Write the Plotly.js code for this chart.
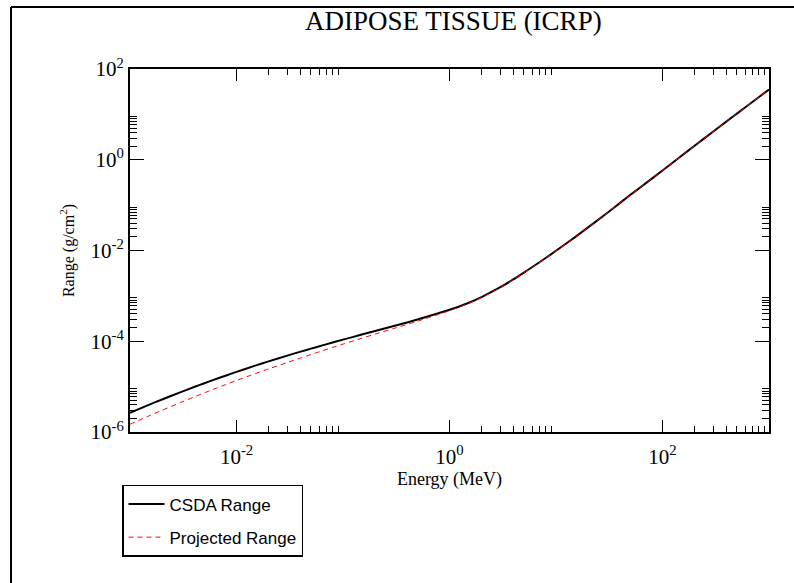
<!DOCTYPE html>
<html>
<head>
<meta charset="utf-8">
<script src="https://cdn.plot.ly/plotly-3.0.1.min.js"></script>
<style>html,body{margin:0;padding:0;background:#fff;}#chart{width:794px;height:583px;}</style>
</head>
<body>
<div id="chart"></div>
<script>
// Energy (MeV)
const energy = [0.001, 0.0015, 0.002, 0.003, 0.004, 0.005, 0.006, 0.008,
  0.01, 0.015, 0.02, 0.03, 0.04, 0.05, 0.06, 0.08,
  0.1, 0.15, 0.2, 0.3, 0.4, 0.5, 0.6, 0.8,
  1, 1.5, 2, 3, 4, 5, 6, 8,
  10, 15, 20, 30, 40, 50, 60, 80,
  100, 150, 200, 300, 400, 500, 600, 800, 1000];
// CSDA Range (g/cm2)
const csdaRange = [2.661e-6, 3.963e-6, 5.21e-6, 7.57e-6, 9.79e-6, 1.189e-5, 1.387e-5, 1.762e-5,
  2.113e-5, 2.904e-5, 3.606e-5, 4.83e-5, 5.90e-5, 6.87e-5, 7.76e-5, 9.376e-5,
  1.084e-4, 1.403e-4, 1.683e-4, 2.168e-4, 2.600e-4, 3.013e-4, 3.412e-4, 4.188e-4,
  4.932e-4, 6.98e-4, 9.42e-4, 1.552e-3, 2.328e-3, 3.258e-3, 4.325e-3, 6.84e-3,
  9.86e-3, 1.950e-2, 3.236e-2, 6.607e-2, 0.1122, 0.1687, 0.2328, 0.389,
  0.579, 1.213, 2.037, 4.198, 7.015, 10.40, 14.35, 23.82, 35.24];
// Projected Range (g/cm2)
const projectedRange = [1.479e-6, 2.254e-6, 3.013e-6, 4.487e-6, 5.916e-6, 7.295e-6, 8.630e-6, 1.119e-5,
  1.365e-5, 1.932e-5, 2.455e-5, 3.404e-5, 4.276e-5, 5.093e-5, 5.875e-5, 7.311e-5,
  8.650e-5, 1.164e-4, 1.436e-4, 1.914e-4, 2.350e-4, 2.767e-4, 3.170e-4, 3.954e-4,
  4.710e-4, 6.761e-4, 9.183e-4, 1.524e-3, 2.291e-3, 3.214e-3, 4.276e-3, 6.776e-3,
  9.772e-3, 1.936e-2, 3.214e-2, 6.577e-2, 0.1117, 0.1679, 0.2317, 0.3873,
  0.5768, 1.208, 2.028, 4.178, 6.982, 10.35, 14.29, 23.71, 35.08];

const xMajorVals = [1e-2, 1, 1e2];
const xMajorText = ['10<sup>-2</sup>', '10<sup>0</sup>', '10<sup>2</sup>'];
const xMinorVals = [2e-2,3e-2,4e-2,5e-2,6e-2,7e-2,8e-2,9e-2, 2,3,4,5,6,7,8,9, 200,300,400,500,600,700,800,900];
const yMajorVals = [1e-6, 1e-4, 1e-2, 1, 1e2];
const yMajorText = ['10<sup>-6</sup>', '10<sup>-4</sup>', '10<sup>-2</sup>', '10<sup>0</sup>', '10<sup>2</sup>'];
const yMinorVals = [2e-6,3e-6,4e-6,5e-6,6e-6,7e-6,8e-6,9e-6, 2e-4,3e-4,4e-4,5e-4,6e-4,7e-4,8e-4,9e-4,
  2e-2,3e-2,4e-2,5e-2,6e-2,7e-2,8e-2,9e-2, 2,3,4,5,6,7,8,9];

const serif = 'Liberation Serif, Times New Roman, serif';
const sans = 'Liberation Sans, Arial, sans-serif';

const traces = [
  {x: energy, y: csdaRange, type: 'scatter', mode: 'lines', name: 'CSDA Range',
   line: {color: '#000000', width: 2, shape: 'spline', smoothing: 0.6}, legendgroup: 'a'},
  {x: energy, y: projectedRange, type: 'scatter', mode: 'lines', name: 'Projected Range',
   line: {color: '#ff0000', width: 1, dash: '5px,4px', shape: 'spline', smoothing: 0.6}, legendgroup: 'b'}
];

const layout = {
  width: 794, height: 583,
  margin: {l: 130, r: 25, t: 69, b: 151},
  paper_bgcolor: '#ffffff', plot_bgcolor: '#ffffff',
  title: {text: 'ADIPOSE TISSUE (ICRP)', font: {family: serif, size: 27, color: '#000'},
          x: 0.571, xanchor: 'center', xref: 'container', y: 0.965, yanchor: 'middle', yref: 'container'},
  xaxis: {type: 'log', range: [-3, 3], showgrid: false, zeroline: false,
    showline: true, linewidth: 2, linecolor: '#000', mirror: 'allticks',
    ticks: 'inside', ticklen: 12, tickwidth: 1, tickcolor: '#000',
    tickmode: 'array', tickvals: xMajorVals, ticktext: xMajorText, ticklabelstandoff: 5,
    tickfont: {family: serif, size: 21, color: '#000'},
    minor: {tickmode: 'array', tickvals: xMinorVals, ticks: 'inside', ticklen: 6, tickwidth: 1, tickcolor: '#000'},
    title: {text: 'Energy (MeV)', font: {family: serif, size: 18, color: '#000'}, standoff: 2}},
  yaxis: {type: 'log', range: [-6, 2], showgrid: false, zeroline: false,
    showline: true, linewidth: 2, linecolor: '#000', mirror: 'allticks',
    ticks: 'inside', ticklen: 14, tickwidth: 1, tickcolor: '#000',
    tickmode: 'array', tickvals: yMajorVals, ticktext: yMajorText,
    tickfont: {family: serif, size: 21, color: '#000'},
    minor: {tickmode: 'array', tickvals: yMinorVals, ticks: 'inside', ticklen: 7, tickwidth: 1, tickcolor: '#000'},
    title: {text: 'Range (g/cm<sup>2</sup>)', font: {family: serif, size: 16, color: '#000'}, standoff: 12}},
  showlegend: true,
  legend: {x: -0.0125, y: -0.146, xanchor: 'left', yanchor: 'top', xref: 'paper', yref: 'paper',
    bgcolor: '#ffffff', bordercolor: '#000', borderwidth: 1.5,
    font: {family: sans, size: 17, color: '#000'}, traceorder: 'grouped', tracegroupgap: 8, itemwidth: 36},
  shapes: [
    {type: 'line', xref: 'paper', yref: 'paper', x0: -0.1862, x1: -0.1862, y0: 1.1708, y1: -0.45,
     line: {color: '#000', width: 2}},
    {type: 'line', xref: 'paper', yref: 'paper', x0: -0.1862, x1: 1.05, y0: 1.1708, y1: 1.1708,
     line: {color: '#000', width: 2}}
  ]
};

Plotly.newPlot('chart', traces, layout, {displayModeBar: false, staticPlot: true});
</script>
</body>
</html>
